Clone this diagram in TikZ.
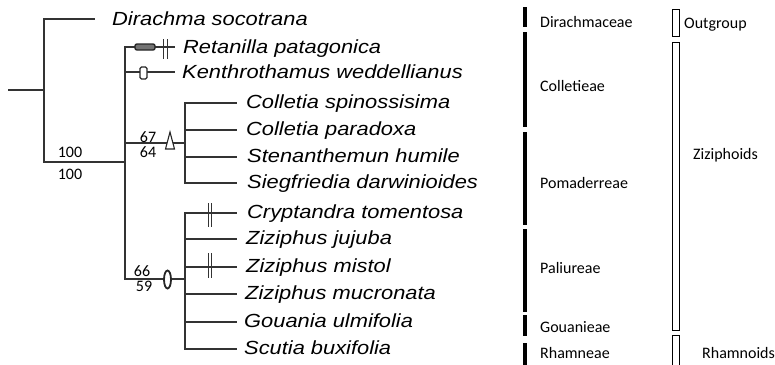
\documentclass[tikz,border=0pt]{standalone}
\usepackage{fontspec}
\setmainfont{Carlito}
\newfontfamily\taxfont[FakeStretch=1.15]{Liberation Sans}
\usetikzlibrary{positioning,shapes.geometric}

\begin{document}
\begin{tikzpicture}[
    x=1pt,y=-1pt,
    branch/.style={draw=black!80,line width=1.2pt},
    taxon/.style={anchor=base west,inner sep=0pt,font=\taxfont\itshape\fontsize{19}{19}\selectfont},
    support/.style={anchor=base,inner sep=0pt,font=\fontsize{16}{16}\selectfont},
    grouplabel/.style={anchor=base west,inner sep=0pt,font=\fontsize{16}{16}\selectfont},
    tribebar/.style={line width=4pt,black},
    cladebox/.style={draw=black,line width=0.9pt,fill=white},
    marker/.style={draw=black!85,line width=1.4pt,fill=white,inner sep=0pt},
    bar/.style={draw=black!80,line width=1.1pt}
  ]
  \useasboundingbox (0,0) rectangle (775,364);
  % Internal nodes
  \coordinate (stub) at (8,90);
  \coordinate (root) at (44,90);
  \coordinate (rham) at (125,162);
  \coordinate (coll) at (185,143);
  \coordinate (zizi) at (185,279);
  % Leaf tips
  \coordinate (dir) at (95,19);
  \coordinate (ret) at (175,47);
  \coordinate (ken) at (175,72);
  \coordinate (csp) at (237,103);
  \coordinate (cpa) at (237,130);
  \coordinate (ste) at (237,157);
  \coordinate (sie) at (237,183);
  \coordinate (cry) at (237,213);
  \coordinate (zju) at (237,239);
  \coordinate (zmi) at (237,267);
  \coordinate (zmu) at (237,294);
  \coordinate (gou) at (237,322);
  \coordinate (scu) at (237,349);
  % Branches
  \draw[branch] (stub) -- (root);
  \draw[branch] (root) |- (dir);
  \draw[branch] (root) |- (rham);
  \foreach \t in {ret,ken,coll,zizi}
    \draw[branch] (rham) |- (\t);
  \foreach \t in {csp,cpa,ste,sie}
    \draw[branch] (coll) |- (\t);
  \foreach \t in {cry,zju,zmi,zmu,gou,scu}
    \draw[branch] (zizi) |- (\t);
  % Taxa
  \node[taxon] (tdir) at (112,25) {Dirachma socotrana};
  \node[taxon] (tret) at (183,53) {Retanilla patagonica};
  \node[taxon] (tken) at (182,78) {Kenthrothamus weddellianus};
  \node[taxon] (tcsp) at (246,108) {Colletia spinossisima};
  \node[taxon] (tcpa) at (246,135) {Colletia paradoxa};
  \node[taxon] (tste) at (247,162) {Stenanthemun humile};
  \node[taxon] (tsie) at (247,188) {Siegfriedia darwinioides};
  \node[taxon] (tcry) at (247,218) {Cryptandra tomentosa};
  \node[taxon] (tzju) at (246,244) {Ziziphus jujuba};
  \node[taxon] (tzmi) at (246,272) {Ziziphus mistol};
  \node[taxon] (tzmu) at (245,299) {Ziziphus mucronata};
  \node[taxon] (tgou) at (244,327) {Gouania ulmifolia};
  \node[taxon] (tscu) at (244,354) {Scutia buxifolia};
  % Support values
  \node[support] (s1a) at (70,157) {100};
  \node[support] (s1b) at (70,179) {100};
  \node[support] (s2a) at (148,142) {67};
  \node[support] (s2b) at (148,157) {64};
  \node[support] (s3a) at (142,276) {66};
  \node[support] (s3b) at (144,291) {59};
  % Characters on branches
  \node[marker,fill=black!55,rounded corners=2pt,minimum width=20pt,minimum height=6pt] (mret) at (145,47) {};
  \node[marker,rounded corners=1.5pt,minimum width=7pt,minimum height=12pt] (mken) at (143.5,73) {};
  \draw[marker,line width=1.1pt] (170,132) -- (174.5,149) -- (165.5,149) -- cycle;
  \node[marker,ellipse,line width=1.8pt,minimum width=7pt,minimum height=18pt] (mzizi) at (167.5,279.5) {};
  \foreach \x/\y/\h in {165.5/49/10, 210/215/12, 210/265.5/12.5} {
    \draw[bar] (\x-1.7,\y-\h) -- (\x-1.7,\y+\h);
    \draw[bar] (\x+1.7,\y-\h) -- (\x+1.7,\y+\h);
  }
  % Tribes
  \draw[tribebar] (525,7) -- (525,27);
  \draw[tribebar] (525,32) -- (525,127);
  \draw[tribebar] (525,132) -- (525,225);
  \draw[tribebar] (525,229) -- (525,312);
  \draw[tribebar] (525,315) -- (525,336);
  \draw[tribebar] (525,343) -- (525,368);
  \node[grouplabel] (gdir) at (540,27) {Dirachmaceae};
  \node[grouplabel] (gcol) at (540,91) {Colletieae};
  \node[grouplabel] (gpom) at (540,188) {Pomaderreae};
  \node[grouplabel] (gpal) at (540,273) {Paliureae};
  \node[grouplabel] (ggou) at (540,332) {Gouanieae};
  \node[grouplabel] (grha) at (540,358) {Rhamneae};
  % Groups
  \draw[cladebox] (672,9) rectangle (679,36);
  \draw[cladebox] (672,42) rectangle (679,330);
  \draw[cladebox] (672,335) rectangle (679,368);
  \node[grouplabel] (gout) at (684,28) {Outgroup};
  \node[grouplabel] (gziz) at (693,159) {Ziziphoids};
  \node[grouplabel] (grhm) at (702,358) {Rhamnoids};
\end{tikzpicture}
\end{document}
